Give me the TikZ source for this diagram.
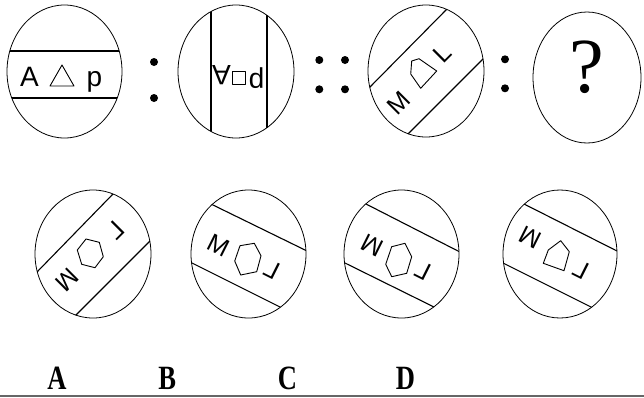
\documentclass[tikz,border=0pt]{standalone}
\usepackage{fontspec}
\setmainfont{Liberation Serif}
\setsansfont{Liberation Sans}
\usetikzlibrary{calc}
\begin{document}
\begin{tikzpicture}[x=1pt,y=-1pt,
  oval/.style={draw,line width=0.8pt},
  band/.style={line width=1.1pt},
  shapeline/.style={line width=0.9pt,line join=round},
  dot/.style={circle,fill,inner sep=0pt,minimum size=8pt},
  bigtxt/.style={inner sep=0pt,font=\sffamily\fontsize{28}{28}\selectfont},
  smalltxt/.style={inner sep=0pt,font=\sffamily\fontsize{25}{25}\selectfont},
  qmark/.style={inner sep=0pt,font=\fontsize{78}{78}\selectfont},
  lab/.style={inner sep=0pt,xscale=0.78,font=\bfseries\fontsize{34}{34}\selectfont}]
\useasboundingbox (0,0) rectangle (644,397);
\newcommand{\chord}[2]{\draw[band] ($(#1)!-0.6!(#2)$) -- ($(#2)!-0.6!(#1)$);}

% ---- top row ----
% ellipse 1
\draw[oval] (64.5,71.5) ellipse [x radius=57.5pt, y radius=66.5pt];
\begin{scope}
  \clip (64.5,71.5) ellipse [x radius=57.5pt, y radius=66.5pt];
  \chord{0,51}{130,51}
  \chord{0,98}{130,98}
\end{scope}
\node[bigtxt,anchor=base] (a1) at (29.5,86) {A};
\draw[shapeline] (50,86) -- (74,86) -- (62,65) -- cycle;
\node[bigtxt,anchor=base] (p1) at (94.5,86) {p};

\node[dot] (c1a) at (154,62) {};
\node[dot] (c1b) at (154,98) {};

% ellipse 2
\draw[oval] (236,71.5) ellipse [x radius=58pt, y radius=66.5pt];
\begin{scope}
  \clip (236,71.5) ellipse [x radius=58pt, y radius=66.5pt];
  \chord{211,0}{211,140}
  \chord{267,0}{267,140}
\end{scope}
\node[bigtxt,rotate=180] (a2) at (221.5,75.5) {A};
\draw[shapeline] (232.5,71.5) rectangle (245,84);
\node[bigtxt,rotate=180] (p2) at (256.5,78.5) {p};

\node[dot] (c2a) at (319.3,60) {};
\node[dot] (c2b) at (345,60) {};
\node[dot] (c2c) at (319.3,89.3) {};
\node[dot] (c2d) at (345,89.3) {};

% ellipse 3
\draw[oval] (426,71) ellipse [x radius=58pt, y radius=66pt];
\begin{scope}
  \clip (426,71) ellipse [x radius=58pt, y radius=66pt];
  \chord{370,87}{444,12}
  \chord{407,135}{483,59}
\end{scope}
\node[smalltxt,rotate=45] (m3) at (398.3,103.3) {M};
\draw[shapeline] (411.7,61) -- (419,58.7) -- (436.7,71) -- (420.7,88.3) -- (410.7,74) -- cycle;
\node[smalltxt,rotate=45] (l3) at (442.7,53.3) {L};

\node[dot] (c3a) at (505,59.3) {};
\node[dot] (c3b) at (505,88.3) {};

% ellipse 4
\draw[oval] (587,77.5) ellipse [x radius=54pt, y radius=65.5pt];
\node[qmark] (q) at (587,67.5) {?};

% ---- bottom row ----
% A
\draw[oval] (93,254) ellipse [x radius=58pt, y radius=64pt];
\begin{scope}
  \clip (93,254) ellipse [x radius=58pt, y radius=64pt];
  \chord{37,272}{112,195}
  \chord{73,318}{149,242}
\end{scope}
\node[smalltxt,rotate=225] (mA) at (67.5,280) {M};
\draw[shapeline] (86,239) -- (99.3,242.3) -- (103.3,256.7) -- (95,267.7) -- (81.7,264.3) -- (77.3,250) -- cycle;
\node[smalltxt,rotate=45] (lA) at (115.3,230.3) {\reflectbox{L}};

% B
\draw[oval] (248.5,254) ellipse [x radius=57.5pt, y radius=64pt];
\begin{scope}
  \clip (248.5,254) ellipse [x radius=57.5pt, y radius=64pt];
  \chord{213,205}{305,250}
  \chord{192,263}{282,308}
\end{scope}
\node[smalltxt,rotate=-26.6] (mB) at (219,245.7) {M};
\draw[shapeline] (240,245.7) -- (254.3,243.3) -- (261,255.7) -- (256.7,271.7) -- (240.7,275) -- (234.7,261) -- cycle;
\node[smalltxt,rotate=-26.6] (lB) at (272.3,270) {\reflectbox{L}};

% C
\draw[oval] (401.5,254) ellipse [x radius=57.5pt, y radius=64pt];
\begin{scope}
  \clip (401.5,254) ellipse [x radius=57.5pt, y radius=64pt];
  \chord{366,204}{458,251}
  \chord{345,263}{436,308}
\end{scope}
\node[smalltxt,rotate=153.4] (mC) at (372.3,245.7) {M};
\draw[shapeline] (391.7,246.7) -- (405,243.3) -- (411.7,256.7) -- (406.7,273.3) -- (391.7,276.7) -- (385.7,264.3) -- cycle;
\node[smalltxt,rotate=-26.6] (lC) at (423.3,270.7) {\reflectbox{L}};

% D
\draw[oval] (560,254) ellipse [x radius=57pt, y radius=64pt];
\begin{scope}
  \clip (560,254) ellipse [x radius=57pt, y radius=64pt];
  \chord{524,204}{617,251}
  \chord{503,263}{593,308}
\end{scope}
\node[smalltxt,rotate=153.4] (mD) at (530.7,237.3) {M};
\draw[shapeline] (560.7,240.7) -- (569.3,251.7) -- (564,270.7) -- (543.3,263.3) -- (548.3,250) -- cycle;
\node[smalltxt,rotate=-26.6] (lD) at (580.7,270) {\reflectbox{L}};

% labels
\node[lab,anchor=base] (labA) at (57,389) {A};
\node[lab,anchor=base] (labB) at (167.3,389) {B};
\node[lab,anchor=base] (labC) at (287.5,389) {C};
\node[lab,anchor=base] (labD) at (405.5,389) {D};

\coordinate (bl) at (0,396);
\coordinate (br) at (644,396);
\draw[line width=1.4pt,black!60] (bl) -- (br);
\end{tikzpicture}
\end{document}
